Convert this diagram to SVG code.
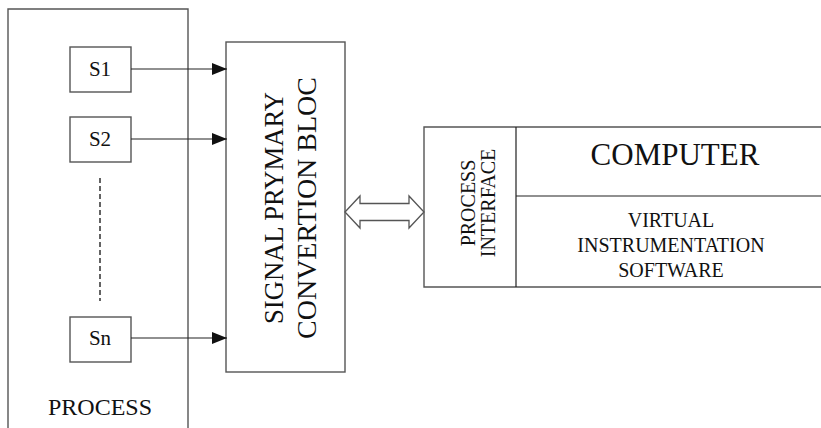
<svg xmlns="http://www.w3.org/2000/svg" width="821" height="428" viewBox="0 0 821 428">
<style>
.b{fill:#fff;stroke:#555;stroke-width:1.4}
.l{fill:none;stroke:#222;stroke-width:1.2}
.t{font-family:"Liberation Serif","Times New Roman",serif;fill:#111;text-anchor:middle}
</style>
<defs>
<marker id="ah" markerWidth="16" markerHeight="12" refX="15" refY="6" orient="auto" markerUnits="userSpaceOnUse">
<path d="M0,0 L15,6 L0,12 Z" fill="#111"/>
</marker>
</defs>
<rect width="821" height="428" fill="#fff"/>
<g id="process">
<path class="b" d="M8,440 V9 H188 V440"/>
<text class="t" x="100" y="415" font-size="24">PROCESS</text>
<path d="M100,178 V301" stroke="#222" stroke-width="1.4" stroke-dasharray="5,3"/>
</g>
<g id="s1">
<rect class="b" x="70" y="47" width="61" height="45"/>
<text class="t" x="100" y="76" font-size="21">S1</text>
</g>
<g id="s2">
<rect class="b" x="70" y="117" width="61" height="45"/>
<text class="t" x="100" y="146" font-size="21">S2</text>
</g>
<g id="sn">
<rect class="b" x="70" y="317" width="61" height="45"/>
<text class="t" x="100" y="345" font-size="21">Sn</text>
</g>
<g id="signal">
<rect class="b" x="226" y="42" width="119" height="330"/>
<text class="t" font-size="28" transform="translate(283,208) rotate(-90)" textLength="232" lengthAdjust="spacingAndGlyphs">SIGNAL PRYMARY</text>
<text class="t" font-size="28" transform="translate(316,208) rotate(-90)">CONVERTION BLOC</text>
</g>
<g id="computer">
<path class="b" d="M830,127 H424 V287 H830"/>
<path class="l" d="M516,127 V287 M516,196 H830" stroke="#555" stroke-width="1.4"/>
<text class="t" font-size="20" transform="translate(475,203) rotate(-90)">PROCESS</text>
<text class="t" font-size="20" transform="translate(495,203) rotate(-90)">INTERFACE</text>
<text class="t" x="675" y="165" font-size="31">COMPUTER</text>
<text class="t" x="671" y="227" font-size="20">VIRTUAL</text>
<text class="t" x="671" y="252" font-size="20">INSTRUMENTATION</text>
<text class="t" x="671" y="277" font-size="20">SOFTWARE</text>
</g>
<g id="connectors">
<path class="l" d="M131,69 H227" marker-end="url(#ah)"/>
<path class="l" d="M131,139 H227" marker-end="url(#ah)"/>
<path class="l" d="M131,338 H227" marker-end="url(#ah)"/>
<path d="M345,212 L360,196 V203.5 H409 V196 L424,212 L409,228 V220.5 H360 V228 Z" fill="#fff" stroke="#555" stroke-width="1.3"/>
</g>
</svg>
